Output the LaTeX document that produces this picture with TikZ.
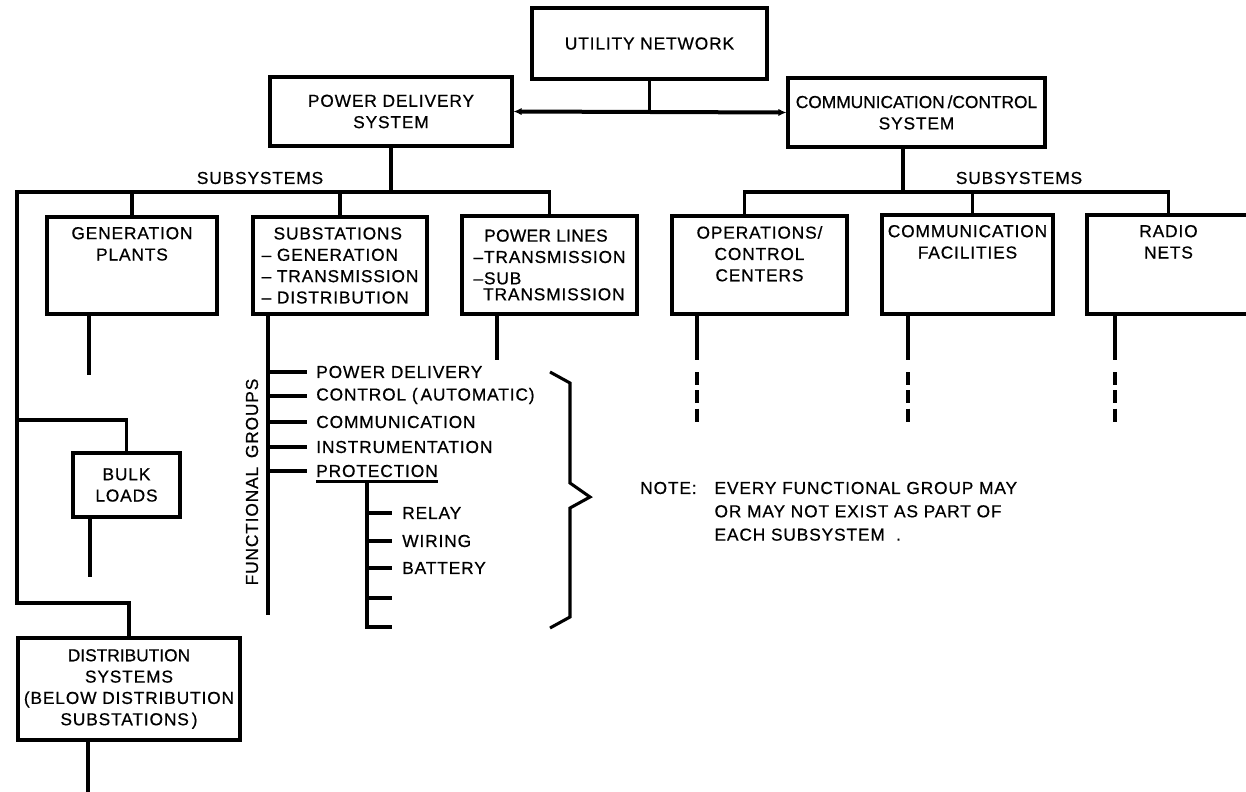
\documentclass[tikz,border=0pt]{standalone}
\usepackage{fontspec}
\setmainfont{Liberation Sans}[LetterSpace=5,FakeBold=0.6]
\usetikzlibrary{arrows.meta,positioning}
\newcommand\diagfont{\fontsize{13pt}{16pt}\selectfont}
\tikzset{
  box/.style={draw,line width=2.3pt,inner sep=0pt,align=center,font=\diagfont},
  wh/.style 2 args={minimum width=#1*0.75pt,minimum height=#2*0.75pt},
  inlbl/.style={anchor=north,align=center,inner sep=0pt,yshift=-8.5pt,font=\diagfont},
  txt/.style={inner sep=0pt,font=\diagfont},
  wire/.style={line width=2.3pt},
  dashwire/.style={line width=2.3pt,dash pattern=on 9.75pt off 4pt},
  busarrow/.style={{Latex[length=6pt,width=5.5pt]}-{Latex[length=6pt,width=5.5pt]},line width=3pt}
}

\begin{document}
\begin{tikzpicture}[x=0.75pt,y=-0.75pt]
\useasboundingbox[fill=white] (0,0) rectangle (1246,792);

% top level
\node[box,wh={235}{71}] (util) at (649.5,43.5) {UTILITY NETWORK};
\node[box,wh={242}{69}] (pds) at (391,111.5) {POWER DELIVERY\\SYSTEM};
\node[box,wh={257}{69}] (comm) at (916.5,112.5) {\addfontfeature{LetterSpace=0}COMMUNICATION\,/CONTROL\\SYSTEM};
\draw[wire] (util.south) -- (util.south |- pds.east);
\draw[busarrow] (pds.east) -- (comm.west);

% power delivery subsystems
\node[txt] (lsub) at (260,178) {SUBSYSTEMS};
\node[box,wh={170}{97},label={[inlbl]north:{GENERATION\\PLANTS}}] (gen) at (132,265.5) {};
\node[box,wh={174}{97},align=left] (sub) at (340,265.5) {\hspace{9pt}SUBSTATIONS\\-- GENERATION\\-- TRANSMISSION\\-- DISTRIBUTION};
\node[box,wh={175}{98},align=left] (pl) at (549.5,265) {\addfontfeature{LetterSpace=2}\hspace{8pt}POWER LINES\\--TRANSMISSION\\--SUB\\[-4pt]\phantom{--}TRANSMISSION};
\node[box,wh={107}{64}] (bulk) at (126.5,485) {BULK\\LOADS};
\node[box,wh={222}{102}] (dist) at (129,689) {\addfontfeature{LetterSpace=0}DISTRIBUTION\\SYSTEMS\\(BELOW DISTRIBUTION\\SUBSTATIONS\,)};

\coordinate (tl) at (17,192);
\coordinate (ml) at (17,420);
\coordinate (bl) at (17,603);
\draw[wire] (pl.north) |- (tl) -- (bl) -| (dist.north);
\draw[wire] (pds.south) -- (pds.south |- tl);
\draw[wire] (gen.north) -- (gen.north |- tl);
\draw[wire] (sub.north) -- (sub.north |- tl);
\draw[wire] (ml) -| (bulk.north);

\coordinate (endgen) at (89,375);
\coordinate (endpl) at (497,360);
\coordinate (endbulk) at (90,577);
\coordinate (enddist) at (88,792);
\foreach \n in {gen,pl,bulk,dist}
  \draw[wire] (\n.south -| end\n) -- (end\n);

% functional groups of a subsystem
\node[txt,rotate=90] (fg) at (252,482) {FUNCTIONAL\enspace GROUPS};
\coordinate (fgend) at (268,615);
\draw[wire] (sub.south -| fgend) -- (fgend);
\node[txt,anchor=west] (pdel) at (316,372) {POWER DELIVERY};
\node[txt,anchor=west] (ctrl) at (316,396) {CONTROL (\,AUTOMATIC)};
\node[txt,anchor=west] (comg) at (316,422) {COMMUNICATION};
\node[txt,anchor=west] (inst) at (316,447) {INSTRUMENTATION};
\node[txt,anchor=west] (prot) at (316,471) {PROTECTION};
\foreach \n in {pdel,ctrl,comg,inst,prot}
  \draw[wire] (\n.west -| fgend) -- ([xshift=-6.75pt]\n.west);

% protection parts
\coordinate (uline) at ([yshift=-3pt]prot.south);
\draw[wire] ([yshift=-3pt]prot.south west) -- ([yshift=-3pt]prot.south east);
\coordinate (pend) at (367,627);
\coordinate (e1) at (392,598);
\coordinate (e2) at (392,627);
\draw[wire] (uline -| pend) -- (pend) -- (e2);
\node[txt,anchor=west] (relay) at (402,513) {RELAY};
\node[txt,anchor=west] (wiring) at (402,541) {WIRING};
\node[txt,anchor=west] (batt) at (402,568) {BATTERY};
\foreach \n in {relay,wiring,batt}
  \draw[wire] (\n.west -| pend) -- ([xshift=-7.5pt]\n.west);
\draw[wire] (e1 -| pend) -- (e1);

% brace and note
\draw[wire] (550,372) -- (570,383) -- (570,483) -- (590,497) -- (570,508) -- (570,617) -- (550,628);
\node[txt,anchor=west] (notelbl) at (640,488) {NOTE:};
\node[txt,anchor=north west,align=left,font=\fontsize{13pt}{17.5pt}\selectfont] (notebody) at ([xshift=13pt]notelbl.north east)
  {EVERY FUNCTIONAL GROUP MAY\\OR MAY NOT EXIST AS PART OF\\EACH SUBSYSTEM\ \ .};

% communication/control subsystems
\node[txt] (rsub) at (1019,178) {SUBSYSTEMS};
\node[box,wh={175}{98},label={[inlbl]north:{OPERATIONS/\\CONTROL\\CENTERS}}] (ops) at (759.5,265) {};
\node[box,wh={171}{99},label={[inlbl]north:{COMMUNICATION\\FACILITIES}}] (cf) at (967.5,264.5) {};
\node[box,wh={163}{99},label={[inlbl]north:{RADIO\\NETS}}] (radio) at (1168.5,264.5) {};

\coordinate (rbus) at (903,192);
\coordinate (opstop) at ([xshift=-11.6pt]ops.north);
\coordinate (cftop) at ([xshift=4pt]cf.north);
\draw[wire] (comm.south -| rbus) -- (rbus);
\draw[wire] (opstop) |- (rbus) -| (radio.north);
\draw[wire] (cftop) -- (cftop |- rbus);

\coordinate (endops) at (697,360);
\coordinate (endcf) at (908,360);
\coordinate (endradio) at (1115,360);
\foreach \n in {ops,cf,radio} {
  \draw[wire] (\n.south -| end\n) -- (end\n);
  \draw[dashwire] ([yshift=-9pt]end\n) -- ([yshift=-47.25pt]end\n);
}
\end{tikzpicture}
\end{document}
